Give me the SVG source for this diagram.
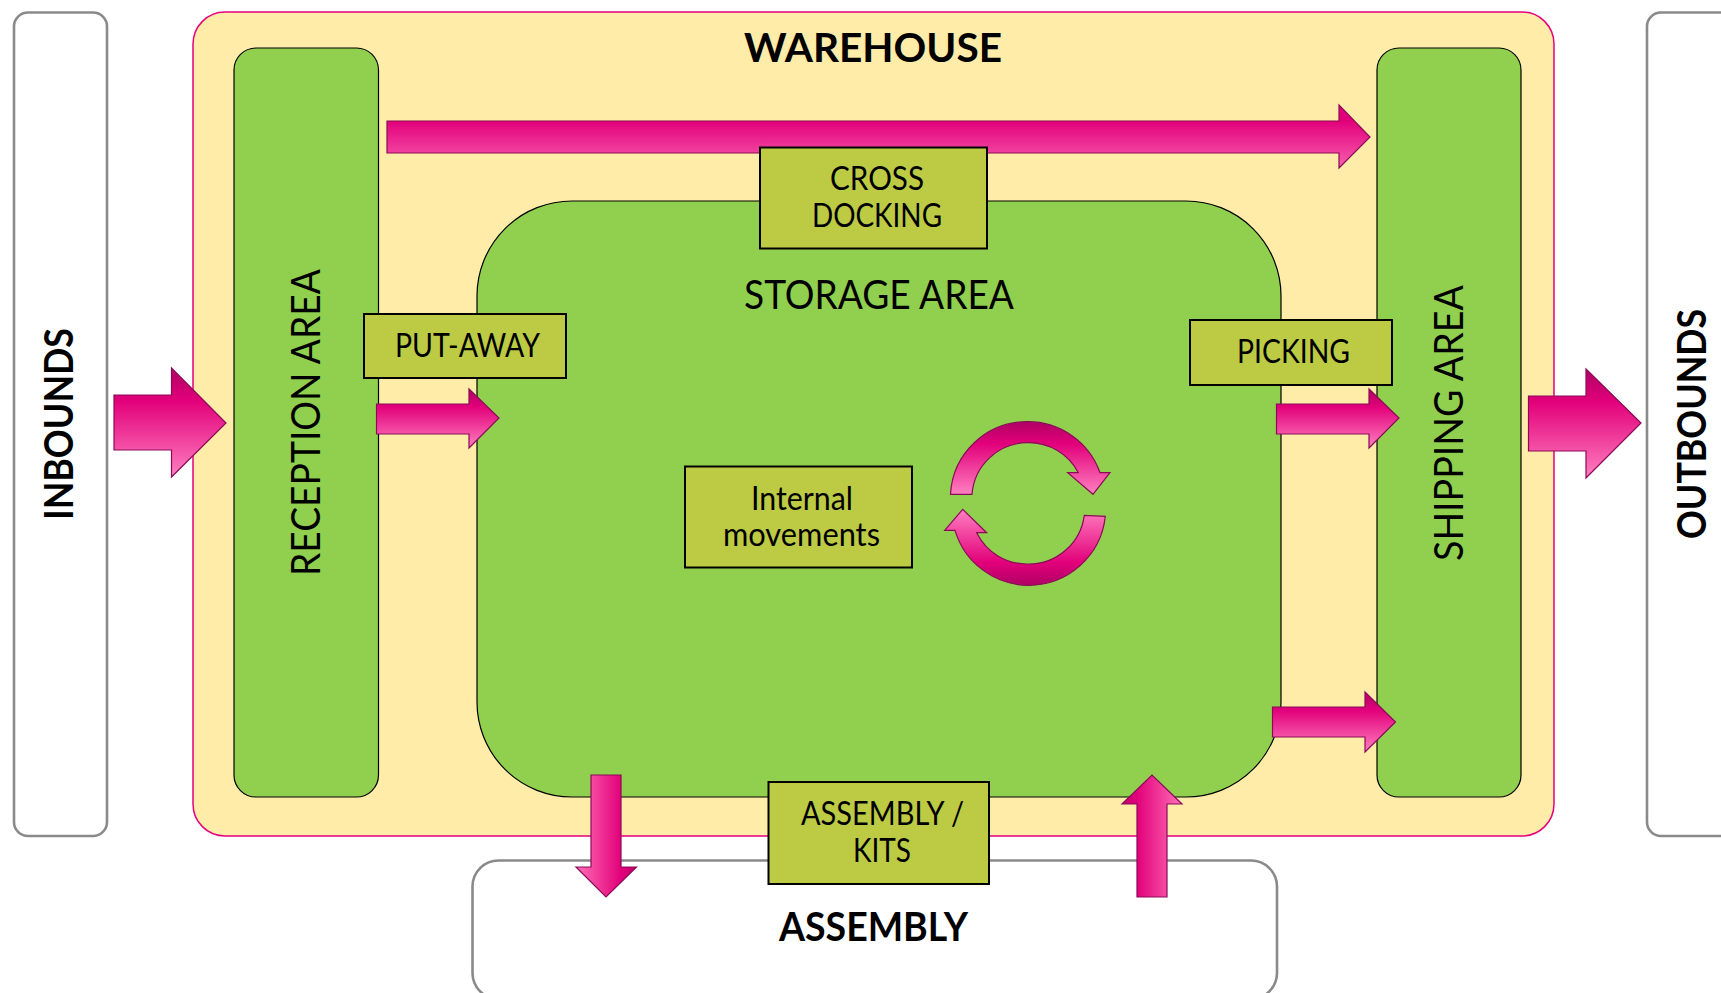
<svg xmlns="http://www.w3.org/2000/svg" width="1721" height="993" viewBox="0 0 1721 993">
<style>
text{font-family:"Lato","Liberation Sans",sans-serif;fill:#000;text-anchor:start}
.b{font-weight:700;font-size:41px}
.r{font-size:40px}
.s{font-size:32px}
.ext{fill:#fff;stroke:#8a8a8a;stroke-width:2.600}
.area{fill:#91d04f;stroke:#000;stroke-width:1.200}
.box{fill:#bdcb44;stroke:#000;stroke-width:2}
.ah{fill:url(#gv);stroke:#8a0a58;stroke-width:1.200}
</style>
<defs>
<linearGradient id="gv" x1="0" y1="0" x2="0" y2="1"><stop offset="0" stop-color="#b00065"/><stop offset=".3" stop-color="#e2007a"/><stop offset="1" stop-color="#ff80c0"/></linearGradient>
<linearGradient id="gt" x1="0" y1="0" x2="0" y2="1"><stop offset="0" stop-color="#e2007a"/><stop offset=".25" stop-color="#e2007a"/><stop offset="1" stop-color="#f860b0"/></linearGradient>
<linearGradient id="gu" x1="0" y1="1" x2="0" y2="0"><stop offset="0" stop-color="#b00065"/><stop offset=".3" stop-color="#e2007a"/><stop offset="1" stop-color="#ff80c0"/></linearGradient>
<linearGradient id="gd" x1="1" y1="0" x2="0" y2="0"><stop offset="0" stop-color="#c40068"/><stop offset=".25" stop-color="#e2007a"/><stop offset="1" stop-color="#ff70b8"/></linearGradient>
<linearGradient id="gl" x1="0" y1="0" x2="1" y2="0"><stop offset="0" stop-color="#c40068"/><stop offset=".25" stop-color="#e2007a"/><stop offset="1" stop-color="#ff70b8"/></linearGradient>
</defs>
<g id="inbounds"><rect class="ext" x="14" y="12.500" width="93" height="823.500" rx="14"/><text class="b" transform="translate(73 520) rotate(-90)" textLength="192" lengthAdjust="spacingAndGlyphs">INBOUNDS</text></g>
<g id="outbounds"><rect class="ext" x="1647" y="12.500" width="120" height="823.500" rx="14"/><text class="b" transform="translate(1706 539) rotate(-90)" textLength="230" lengthAdjust="spacingAndGlyphs">OUTBOUNDS</text></g>
<g id="assembly"><rect class="ext" x="472.500" y="860.500" width="804.500" height="138.500" rx="26"/><text class="b" x="779" y="941" textLength="189" lengthAdjust="spacingAndGlyphs">ASSEMBLY</text></g>
<g id="warehouse"><rect x="193" y="12" width="1361" height="824" rx="32" fill="#ffeca8" stroke="#e6007e" stroke-width="1.500"/><text class="b" x="744" y="62" textLength="258" lengthAdjust="spacingAndGlyphs">WAREHOUSE</text></g>
<g id="reception-area"><rect class="area" x="234" y="48" width="144.500" height="749" rx="22"/><text class="r" transform="translate(320 576) rotate(-90)" textLength="307" lengthAdjust="spacingAndGlyphs">RECEPTION AREA</text></g>
<g id="shipping-area"><rect class="area" x="1377" y="48" width="144" height="749" rx="22"/><text class="r" transform="translate(1463 561) rotate(-90)" textLength="276" lengthAdjust="spacingAndGlyphs">SHIPPING AREA</text></g>
<g id="storage-area"><rect class="area" x="477" y="201" width="804" height="596" rx="95"/><text class="r" x="744" y="309" textLength="270" lengthAdjust="spacingAndGlyphs">STORAGE AREA</text></g>
<g id="connectors">
<path class="ah" style="fill:url(#gt)" d="M387 121H1339V105L1370 137L1339 168V153H387Z"/>
<path class="ah" d="M114 395H171.500V368L226 423L171.500 477V450H114Z"/>
<path class="ah" d="M376.500 404H469V389L499 418L469 448V434H376.500Z"/>
<path class="ah" d="M1276.500 404H1369V389L1399 418L1369 448V434H1276.500Z"/>
<path class="ah" d="M1528.500 396H1586V369L1641 423L1586 478V451H1528.500Z"/>
<path class="ah" d="M1272.500 707H1365V692L1395.500 722L1365 752V737H1272.500Z"/>
<path class="ah" style="fill:url(#gd)" d="M591 775H621V867H636.500L606 897L576 867H591Z"/>
<path class="ah" style="fill:url(#gl)" d="M1137 897V804H1122L1152 775L1182 804H1167V897Z"/>
<path class="ah" d="M950.500 494.300A76.600 76.600 0 0 1 1027 421.700A76.600 76.600 0 0 1 1100 472.700H1110L1093 494.300L1067.700 472.700H1078.300A56 56 0 0 0 1027 442.700A56 56 0 0 0 972 494.300Z"/>
<path class="ah" style="fill:url(#gu)" d="M1105.300 516.300A77 77 0 0 1 1028.300 585.300A77 77 0 0 1 955 530.300H944.700L962.700 509.300L986.700 532.700H976.700A56 56 0 0 0 1028.300 564A56 56 0 0 0 1084.300 515.300Z"/>
</g>
<g id="cross-docking"><rect class="box" x="760" y="147.500" width="227" height="101"/><text class="s" x="830" y="190" textLength="94" lengthAdjust="spacingAndGlyphs">CROSS</text><text class="s" x="812" y="227" textLength="130" lengthAdjust="spacingAndGlyphs">DOCKING</text></g>
<g id="put-away"><rect class="box" x="364" y="314" width="202" height="64"/><text class="s" x="395" y="357" textLength="145" lengthAdjust="spacingAndGlyphs">PUT-AWAY</text></g>
<g id="picking"><rect class="box" x="1190" y="320" width="202" height="65"/><text class="s" x="1237" y="363" textLength="113" lengthAdjust="spacingAndGlyphs">PICKING</text></g>
<g id="internal-movements"><rect class="box" x="685" y="466.500" width="227" height="101"/><text class="s" x="751" y="510" textLength="102" lengthAdjust="spacingAndGlyphs">Internal</text><text class="s" x="723" y="546" textLength="157" lengthAdjust="spacingAndGlyphs">movements</text></g>
<g id="assembly-kits"><rect class="box" x="768.500" y="782" width="220.500" height="102"/><text class="s" x="801" y="825" textLength="163" lengthAdjust="spacingAndGlyphs">ASSEMBLY /</text><text class="s" x="853" y="862" textLength="58" lengthAdjust="spacingAndGlyphs">KITS</text></g>
</svg>
